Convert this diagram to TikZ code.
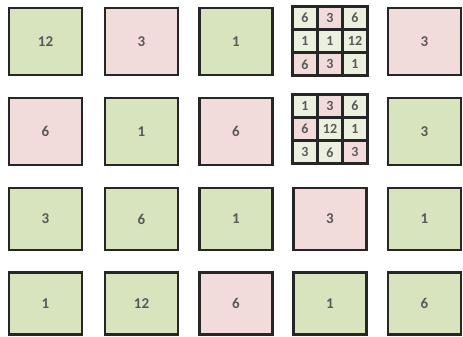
\documentclass[tikz,border=0pt]{standalone}
\usepackage{fontspec}
\setmainfont{Carlito}
\definecolor{bgreen}{HTML}{D7E4BD}
\definecolor{bpink}{HTML}{F2DCDB}
\definecolor{cgreen}{HTML}{EBF1DE}
\definecolor{cpink}{HTML}{F2DCDB}
\definecolor{edge}{HTML}{262626}
\definecolor{txt}{HTML}{595959}
\tikzset{
  bigbox/.style={draw=edge, line width=2.6pt, minimum width=73pt, minimum height=67pt, inner sep=0pt, text=txt, font=\fontsize{15}{17}\selectfont\bfseries},
  bigboxs/.style={bigbox, minimum height=62pt},
  cellbox/.style={draw=edge, line width=3pt, minimum width=25pt, minimum height=23.3pt, inner sep=0pt, text=txt, font=\fontsize{14}{16}\selectfont\bfseries},
  G/.style={fill=bgreen}, P/.style={fill=bpink},
  g/.style={fill=cgreen}, p/.style={fill=cpink}
}
\begin{document}
\begin{tikzpicture}[x=1pt,y=-1pt]
\useasboundingbox (0,0) rectangle (463,337);
% row 1 (y 7-76)
\node[bigbox,G] (a1) at (45.5,41.5) {12};
\node[bigbox,P] (b1) at (141.5,41.5) {3};
\node[bigbox,G] (c1) at (236,41.5) {1};
\node[bigbox,P] (e1) at (424.5,41.5) {3};
% row 2 (y 97-166)
\node[bigbox,P] (a2) at (45.5,131.5) {6};
\node[bigbox,G] (b2) at (141.5,131.5) {1};
\node[bigbox,P] (c2) at (236,131.5) {6};
\node[bigbox,G] (e2) at (424.5,131.5) {3};
% row 3 (y 187-251)
\node[bigboxs,G] (a3) at (45.5,219) {3};
\node[bigboxs,G] (b3) at (141.5,219) {6};
\node[bigboxs,G] (c3) at (236,219) {1};
\node[bigboxs,P] (d3) at (330,219) {3};
\node[bigboxs,G] (e3) at (424.5,219) {1};
% row 4 (y 272-335)
\node[bigboxs,G] (a4) at (45.5,303.5) {1};
\node[bigboxs,G] (b4) at (141.5,303.5) {12};
\node[bigboxs,P] (c4) at (236,303.5) {6};
\node[bigboxs,G] (d4) at (330,303.5) {1};
\node[bigboxs,G] (e4) at (424.5,303.5) {6};
% grid 1 (x 292-367, y 6-76)
\node[cellbox,g] (g11) at (305,17.7) {6};
\node[cellbox,p] (g12) at (330,17.7) {3};
\node[cellbox,g] (g13) at (355,17.7) {6};
\node[cellbox,g] (g21) at (305,41) {1};
\node[cellbox,g] (g22) at (330,41) {1};
\node[cellbox,g] (g23) at (355,41) {12};
\node[cellbox,p] (g31) at (305,64.3) {6};
\node[cellbox,p] (g32) at (330,64.3) {3};
\node[cellbox,g] (g33) at (355,64.3) {1};
% grid 2 (x 292-367, y 94-164)
\node[cellbox,g] (h11) at (305,105.7) {1};
\node[cellbox,p] (h12) at (330,105.7) {3};
\node[cellbox,g] (h13) at (355,105.7) {6};
\node[cellbox,p] (h21) at (305,129) {6};
\node[cellbox,g] (h22) at (330,129) {12};
\node[cellbox,g] (h23) at (355,129) {1};
\node[cellbox,g] (h31) at (305,152.3) {3};
\node[cellbox,g] (h32) at (330,152.3) {6};
\node[cellbox,p] (h33) at (355,152.3) {3};
\end{tikzpicture}
\end{document}
